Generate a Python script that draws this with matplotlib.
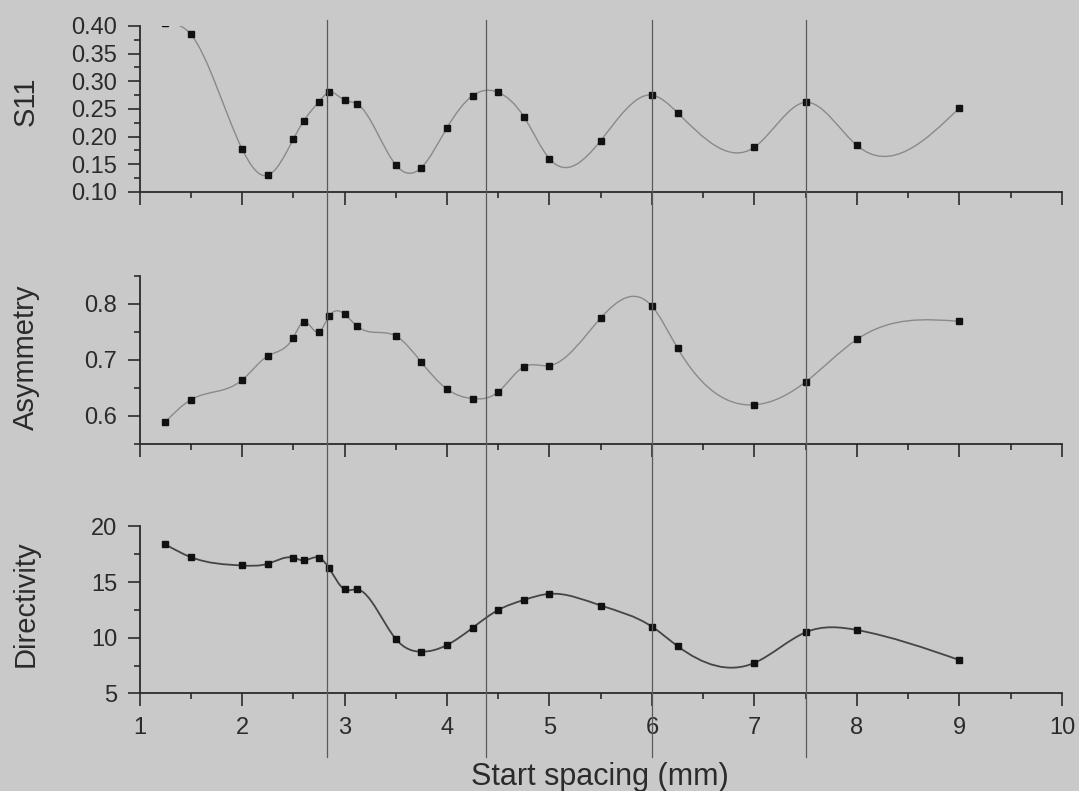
import numpy as np
import matplotlib
matplotlib.use("Agg")
import matplotlib.pyplot as plt
from matplotlib.path import Path
from matplotlib.patches import PathPatch
from matplotlib.lines import Line2D
from matplotlib.ticker import MultipleLocator, FormatStrFormatter
import matplotlib.transforms as mtransforms

plt.rcParams['font.family'] = ['Liberation Sans', 'DejaVu Sans']

# start spacing (mm)
spacing = [1.25, 1.5, 2.0, 2.25, 2.5, 2.6, 2.75, 2.85, 3.0, 3.125, 3.5, 3.75,
           4.0, 4.25, 4.5, 4.75, 5.0, 5.5, 6.0, 6.25, 7.0, 7.5, 8.0, 9.0]

s11 = [0.405, 0.385, 0.178, 0.130, 0.195, 0.228, 0.263, 0.280, 0.266, 0.259, 0.149, 0.144,
       0.216, 0.274, 0.280, 0.236, 0.160, 0.193, 0.275, 0.243, 0.181, 0.262, 0.184, 0.252]

asymmetry = [0.589, 0.629, 0.664, 0.707, 0.740, 0.768, 0.750, 0.778, 0.782, 0.760, 0.743, 0.696,
             0.648, 0.631, 0.643, 0.688, 0.690, 0.775, 0.796, 0.721, 0.620, 0.661, 0.737, 0.769]

directivity = [18.4, 17.25, 16.5, 16.65, 17.2, 16.95, 17.2, 16.25, 14.35, 14.35, 9.9, 8.75,
               9.35, 10.9, 12.5, 13.4, 13.95, 12.9, 11.0, 9.25, 7.75, 10.5, 10.7, 8.0]

# vertical reference lines
markers_x = [2.83, 4.38, 6.0, 7.5]

bg = '#c9c9c9'
ink = '#2b2b2b'


def spline_path(x, y):
    # natural cubic spline written as bezier segments
    x = np.asarray(x, float)
    y = np.asarray(y, float)
    n = len(x)
    h = np.diff(x)
    A = np.zeros((n, n))
    r = np.zeros(n)
    A[0, 0] = 1
    A[-1, -1] = 1
    for i in range(1, n - 1):
        A[i, i - 1] = h[i - 1]
        A[i, i] = 2 * (h[i - 1] + h[i])
        A[i, i + 1] = h[i]
        r[i] = 6 * ((y[i + 1] - y[i]) / h[i] - (y[i] - y[i - 1]) / h[i - 1])
    M = np.linalg.solve(A, r)
    m = np.zeros(n)
    for i in range(n - 1):
        m[i] = (y[i + 1] - y[i]) / h[i] - h[i] * (2 * M[i] + M[i + 1]) / 6
    m[-1] = (y[-1] - y[-2]) / h[-1] + h[-1] * (M[-2] + 2 * M[-1]) / 6
    verts = [(x[0], y[0])]
    codes = [Path.MOVETO]
    for i in range(n - 1):
        verts += [(x[i] + h[i] / 3, y[i] + m[i] * h[i] / 3),
                  (x[i + 1] - h[i] / 3, y[i + 1] - m[i + 1] * h[i] / 3),
                  (x[i + 1], y[i + 1])]
        codes += [Path.CURVE4] * 3
    return Path(verts, codes)


fig = plt.figure(figsize=(10.79, 7.91), dpi=100)
fig.patch.set_facecolor(bg)

left, width = 0.1293, 0.8549
ax1 = fig.add_axes([left, 0.7573, width, 0.2099])
ax2 = fig.add_axes([left, 0.4387, width, 0.2124])
ax3 = fig.add_axes([left, 0.1233, width, 0.2111])

panels = [
    (ax1, s11, (0.10, 0.40), 0.05, 0.025, '%.2f', '#8a8a8a', 1.0),
    (ax2, asymmetry, (0.55, 0.85), 0.1, 0.05, '%.1f', '#8a8a8a', 1.0),
    (ax3, directivity, (5, 20), 5, 2.5, '%d', '#454545', 1.3),
]

for ax, vals, ylim, major, minor, fmt, lc, lw in panels:
    ax.set_facecolor('none')
    ax.add_patch(PathPatch(spline_path(spacing, vals), facecolor='none',
                           edgecolor=lc, lw=lw, zorder=2))
    ax.plot(spacing, vals, 's', color='#111111', markersize=5, zorder=3)
    ax.set_xlim(1, 10)
    ax.set_ylim(*ylim)
    for s in ['top', 'right']:
        ax.spines[s].set_visible(False)
    for s in ['left', 'bottom']:
        ax.spines[s].set_linewidth(1.3)
        ax.spines[s].set_color(ink)
    ax.xaxis.set_major_locator(MultipleLocator(1))
    ax.xaxis.set_minor_locator(MultipleLocator(0.5))
    ax.yaxis.set_major_locator(MultipleLocator(major))
    ax.yaxis.set_minor_locator(MultipleLocator(minor))
    ax.yaxis.set_major_formatter(FormatStrFormatter(fmt))
    ax.tick_params(which='major', direction='out', length=9, width=1.2, color=ink,
                   labelsize=17, labelcolor=ink)
    ax.tick_params(which='minor', direction='out', length=4.5, width=1.2, color=ink)
    ax.tick_params(axis='y', which='major', pad=7)
    ax.tick_params(axis='x', which='major', pad=8)

ax1.tick_params(axis='x', labelbottom=False)
ax2.tick_params(axis='x', labelbottom=False)

# vertical lines spanning all panels
trans = mtransforms.blended_transform_factory(ax3.transData, fig.transFigure)
for xv in markers_x:
    fig.add_artist(Line2D([xv, xv], [1 - 20 / 791, 1 - 757 / 791], transform=trans,
                          color='#5a5a5a', lw=0.9, zorder=1))

fig.text(0.024, 1 - 101 / 791, 'S11', rotation=90, ha='center', va='center',
         fontsize=21, color=ink)
fig.text(0.024, 1 - 357 / 791, 'Asymmetry', rotation=90, ha='center', va='center',
         fontsize=21, color=ink)
fig.text(0.024, 1 - 604 / 791, 'Directivity', rotation=90, ha='center', va='center',
         fontsize=21, color=ink)
fig.text(600 / 1079, 1 - 777 / 791, 'Start spacing (mm)', ha='center', va='center',
         fontsize=22, color=ink)

fig.savefig('out.png', dpi=100, facecolor=bg)
